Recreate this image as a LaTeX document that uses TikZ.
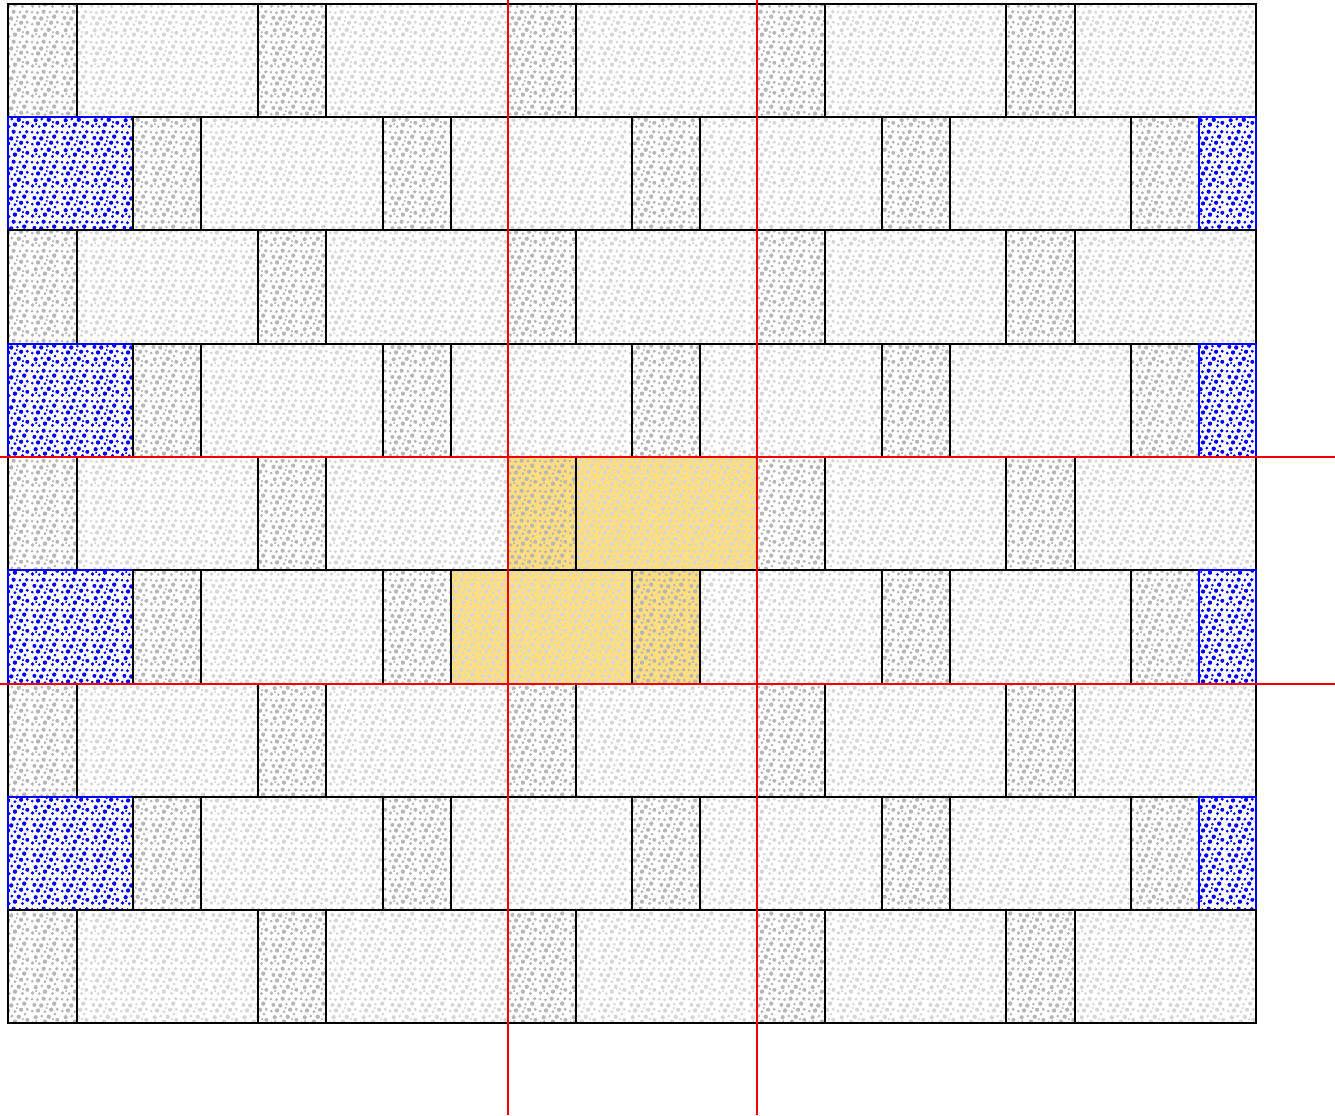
\documentclass[tikz,border=0pt]{standalone}
\usetikzlibrary{patterns}
\def\gblob#1#2#3{\pgfpathcircle{\pgfpoint{#1pt}{#2pt}}{#3pt}}
\pgfdeclarepatternformonly{gravel}{\pgfpoint{0pt}{0pt}}{\pgfpoint{30pt}{30pt}}{\pgfpoint{30pt}{30pt}}{%
  \gblob{2.5}{3.1}{1.9}\gblob{9.3}{2.3}{1.5}\gblob{15.0}{4.4}{2.2}\gblob{22.5}{2.5}{1.6}
  \gblob{27.4}{6.2}{2.0}\gblob{5.7}{8.8}{2.1}\gblob{11.9}{10.0}{1.6}\gblob{18.8}{9.3}{2.2}
  \gblob{25.0}{11.9}{1.5}\gblob{2.3}{15.0}{1.5}\gblob{8.1}{15.6}{2.2}\gblob{15.0}{14.4}{1.6}
  \gblob{21.2}{16.3}{2.1}\gblob{27.4}{16.8}{1.6}\gblob{4.4}{21.2}{2.0}\gblob{11.3}{20.6}{2.2}
  \gblob{17.5}{21.9}{1.5}\gblob{24.3}{22.5}{2.2}\gblob{2.1}{26.9}{1.4}\gblob{7.5}{26.3}{1.6}
  \gblob{13.7}{27.4}{2.1}\gblob{20.0}{26.9}{1.6}\gblob{26.9}{27.4}{1.9}\gblob{16.8}{18.1}{1.2}
  \gblob{6.2}{5.0}{1.2}\gblob{23.1}{6.9}{1.2}
  \pgfusepath{fill}}
\definecolor{speckD}{RGB}{182,182,182}
\definecolor{speckL}{RGB}{214,214,214}
\definecolor{yellowc}{RGB}{255,222,130}
\definecolor{redc}{RGB}{240,0,0}
\tikzset{
  smallblk/.style={draw=black, line width=2bp, pattern=gravel, pattern color=speckD},
  largeblk/.style={draw=black, line width=2bp, pattern=gravel, pattern color=speckL},
  ysmallblk/.style={draw=black, line width=2bp, preaction={fill=yellowc}, pattern=gravel, pattern color=speckD},
  ylargeblk/.style={draw=black, line width=2bp, preaction={fill=yellowc}, pattern=gravel, pattern color=speckL},
  blueblk/.style={draw=blue, line width=2bp, pattern=gravel, pattern color=blue},
  redline/.style={draw=redc, line width=1.6bp}
}
\begin{document}
\begin{tikzpicture}[x=1bp,y=-1bp]
\useasboundingbox (0,0) rectangle (1335,1115);
\foreach \ya/\yb [count=\r from 0] in {4/117,117/230,230/344,344/457,457/570,570/684,684/797,797/910,910/1023}{
  \ifodd\r
    \path[blueblk] (8,\ya) rectangle (133,\yb);
    \foreach \xa/\xb/\xc [count=\k from 0] in {133/201/383,383/451/632,632/700/882,882/950/1131}{
      \ifnum\r=5
        \ifnum\k=2
          \path[ysmallblk] (\xa,\ya) rectangle (\xb,\yb);
        \else
          \path[smallblk] (\xa,\ya) rectangle (\xb,\yb);
        \fi
        \ifnum\k=1
          \path[ylargeblk] (\xb,\ya) rectangle (\xc,\yb);
        \else
          \path[largeblk] (\xb,\ya) rectangle (\xc,\yb);
        \fi
      \else
        \path[smallblk] (\xa,\ya) rectangle (\xb,\yb);
        \path[largeblk] (\xb,\ya) rectangle (\xc,\yb);
      \fi
    }
    \path[smallblk] (1131,\ya) rectangle (1199,\yb);
    \path[blueblk] (1199,\ya) rectangle (1256,\yb);
  \else
    \foreach \xa/\xb/\xc [count=\k from 0] in {8/77/258,258/326/508,508/576/757,757/825/1006,1006/1075/1256}{
      \ifnum\r=4
        \ifnum\k=2
          \path[ysmallblk] (\xa,\ya) rectangle (\xb,\yb);
          \path[ylargeblk] (\xb,\ya) rectangle (\xc,\yb);
        \else
          \path[smallblk] (\xa,\ya) rectangle (\xb,\yb);
          \path[largeblk] (\xb,\ya) rectangle (\xc,\yb);
        \fi
      \else
        \path[smallblk] (\xa,\ya) rectangle (\xb,\yb);
        \path[largeblk] (\xb,\ya) rectangle (\xc,\yb);
      \fi
    }
  \fi
}
\coordinate (v1t) at (508,0);
\coordinate (v1b) at (508,1115);
\coordinate (v2t) at (757,0);
\coordinate (v2b) at (757,1115);
\coordinate (h1l) at (0,457);
\coordinate (h1r) at (1335,457);
\coordinate (h2l) at (0,684);
\coordinate (h2r) at (1335,684);
\draw[redline] (v1t) -- (v1b);
\draw[redline] (v2t) -- (v2b);
\draw[redline] (h1l) -- (h1r);
\draw[redline] (h2l) -- (h2r);
\end{tikzpicture}
\end{document}
